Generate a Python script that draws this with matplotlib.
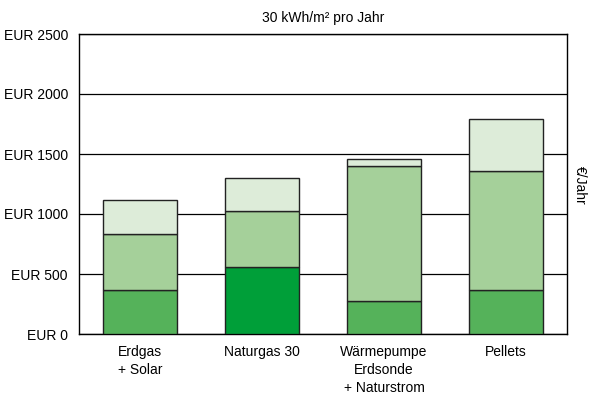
import matplotlib.pyplot as plt
import numpy as np

# Data (EUR per year)
categories = ['Erdgas\n+ Solar', 'Naturgas 30', 'Wärmepumpe\nErdsonde\n+ Naturstrom', 'Pellets']
bottom_vals = [370, 556, 275, 367]
middle_vals = [467, 472, 1125, 989]
top_vals = [280, 276, 58, 438]
yticks = [0, 500, 1000, 1500, 2000, 2500]
ytick_labels = ['EUR 0', 'EUR 500', 'EUR 1000', 'EUR 1500', 'EUR 2000', 'EUR 2500']

plt.rcParams['font.family'] = ['Liberation Sans', 'DejaVu Sans']

fig = plt.figure(figsize=(5.9, 3.94), dpi=100)
ax = fig.add_axes([79/590, 1 - 334/394, 488/590, 300/394])

x = np.arange(len(categories))
w = 0.6
bottom_colors = ['#55b25a', '#009f39', '#55b25a', '#55b25a']
edge = '#222222'

ax.bar(x, bottom_vals, w, color=bottom_colors, edgecolor=edge, linewidth=1, zorder=3)
ax.bar(x, middle_vals, w, bottom=bottom_vals, color='#a5d09a', edgecolor=edge, linewidth=1, zorder=3)
b2 = np.array(bottom_vals) + np.array(middle_vals)
ax.bar(x, top_vals, w, bottom=b2, color='#ddecd9', edgecolor=edge, linewidth=1, zorder=3)

ax.set_xlim(-0.5, 3.5)
ax.set_ylim(0, 2500)
ax.set_yticks(yticks)
ax.set_yticklabels(ytick_labels, fontsize=10)
ax.set_xticks(x)
ax.set_xticklabels(categories, fontsize=10, linespacing=1.35)
ax.tick_params(axis='y', length=0, pad=8)
ax.tick_params(axis='x', length=0, pad=8)
ax.yaxis.grid(True, color='black', linewidth=0.9, zorder=0)
ax.set_axisbelow(True)
for s in ax.spines.values():
    s.set_linewidth(1)
    s.set_color('black')

fig.text(323/590, 1 - 18/394, '30 kWh/m² pro Jahr', ha='center', va='center', fontsize=10)
fig.text(580/590, 1 - 185/394, '€/Jahr', ha='center', va='center', rotation=-90, fontsize=10)

fig.savefig('out.png', dpi=100)
